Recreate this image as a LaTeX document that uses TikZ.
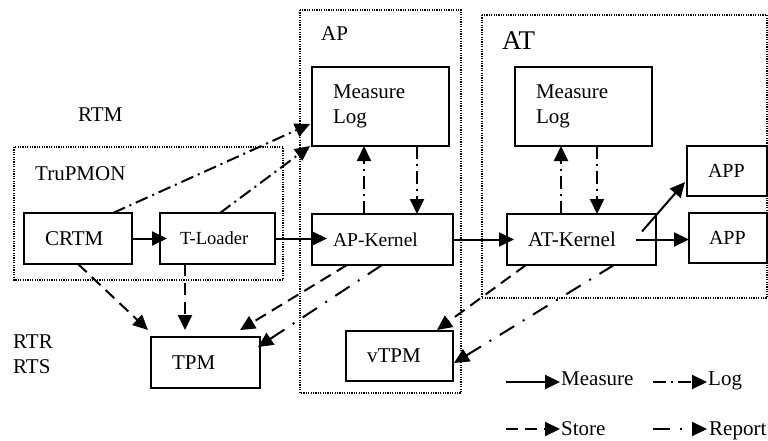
\documentclass[tikz,border=0pt]{standalone}
\usepackage{fontspec}
\setmainfont{Liberation Serif}
\usetikzlibrary{arrows.meta,calc}
\begin{document}
\begin{tikzpicture}[x=1pt,y=-1pt,
  every node/.style={font=\fontsize{21}{25}\selectfont},
  box/.style={draw, line width=1.8pt, anchor=north west, inner xsep=21pt,
    inner ysep=0pt, outer sep=0pt, align=left},
  group/.style={line width=1.2pt, dash pattern=on 1.2pt off 1.2pt},
  tip/.style={-{Triangle[length=15pt,width=14pt]}},
  measure/.style={tip, line width=2pt},
  logarrow/.style={tip, line width=2pt, dash pattern=on 13pt off 5pt on 2pt off 5pt},
  store/.style={tip, line width=2pt, dash pattern=on 12pt off 7pt},
  report/.style={tip, line width=2pt, dash pattern=on 17pt off 10pt on 2pt off 10pt},
  lbl/.style={anchor=base west, inner sep=0pt}
]
\useasboundingbox[fill=white] (0,0) rectangle (768,441);

% dotted groups
\draw[group] (300,10) rectangle (461,393);
\draw[group] (482,15) rectangle (767,298);
\draw[group] (14,147) rectangle (283,280);

% group labels
\node[lbl] (lrtm) at (78,122) {RTM};
\node[lbl] (lap) at (321,41) {AP};
\node[lbl, font=\fontsize{27}{30}\selectfont] (lat) at (502,50) {AT};
\node[lbl] (ltru) at (35,180) {TruPMON};
\node[lbl] (lrtr) at (13,348) {RTR};
\node[lbl] (lrts) at (13,373) {RTS};

% components
\node[box, text width=95pt, minimum height=79pt] (apml) at (312,67) {Measure\\Log};
\node[box, text width=95pt, minimum height=79pt] (atml) at (515,67) {Measure\\Log};
\node[box, text width=38pt, minimum height=50pt, font=\fontsize{20}{24}\selectfont] (app1) at (687,146) {APP};
\node[box, inner xsep=20pt, text width=38pt, minimum height=50pt, font=\fontsize{20}{24}\selectfont] (app2) at (689,213) {APP};
\node[box, text width=66pt, minimum height=51pt] (crtm) at (24,213) {CRTM};
\node[box, inner xsep=20pt, text width=75pt, minimum height=51pt, font=\fontsize{18.5}{22}\selectfont] (tl) at (160,213) {T-Loader};
\node[box, text width=99pt, minimum height=51pt, font=\fontsize{19.6}{23}\selectfont] (apk) at (312,214) {AP-Kernel};
\node[box, text width=107pt, minimum height=51pt] (atk) at (507,214) {AT-Kernel};
\node[box, text width=67pt, minimum height=51pt] (tpm) at (151,337) {TPM};
\node[box, text width=65pt, minimum height=50pt] (vtpm) at (346,331) {vTPM};

% measure
\draw[measure] (crtm.east) -- ($(crtm.east -| tl.west)+(7,0)$);
\draw[measure] (tl.east) -- ($(tl.east -| apk.west)+(15,0)$);
\draw[measure] (apk.east) -- ($(apk.east -| atk.west)+(7,0)$);
\draw[measure] ($(atk.east)+(-20,0)$) -- (atk.east -| app2.west);
\draw[measure] ($(atk.east)+(-14,-8)$) -- ($(app1.south west)+(-2,-14)$);

% log
\draw[logarrow] ($(crtm.north west)+(89,0)$) -- ($(apml.south west)+(-2,-22)$);
\draw[logarrow] ($(tl.north west)+(60,0)$) -- ($(apml.south west)+(-2,0)$);
\draw[logarrow] ($(apk.north west)+(52,0)$) -- ($(apml.south west)+(52,0)$);
\draw[logarrow] ($(apml.south west)+(105,0)$) -- ($(apk.north west)+(105,0)$);
\draw[logarrow] ($(atk.north west)+(54,0)$) -- ($(atml.south west)+(46,0)$);
\draw[logarrow] ($(atml.south west)+(82,0)$) -- ($(atk.north west)+(90,0)$);

% store
\draw[store] ($(crtm.south west)+(54,0)$) -- ($(tpm.north west)+(-3,-7)$);
\draw[store] ($(tl.south west)+(25,0)$) -- ($(tpm.north west)+(34,-7)$);
\draw[store] ($(apk.south west)+(35,0)$) -- ($(tpm.north west)+(89,-7)$);
\draw[store] ($(atk.south west)+(19,0)$) -- ($(vtpm.north west)+(91,-1)$);

% report
\draw[report] ($(apk.south west)+(70,0)$) -- ($(tpm.north east)+(-2,10)$);
\draw[report] ($(atk.south west)+(107,0)$) -- ($(vtpm.north east)+(1,32)$);

% legend
\coordinate (m1) at (506,382); \coordinate (m2) at (560,382);
\coordinate (g1) at (653,382); \coordinate (g2) at (707,382);
\coordinate (s1) at (506,429); \coordinate (s2) at (560,429);
\coordinate (r1) at (653,429); \coordinate (r2) at (707,429);
\draw[measure] (m1) -- (m2);
\draw[logarrow] (g1) -- (g2);
\draw[store] (s1) -- (s2);
\draw[report] (r1) -- (r2);
\node[lbl] (tm) at (561,385) {Measure};
\node[lbl] (tg) at (708,385) {Log};
\node[lbl] (ts) at (561,435) {Store};
\node[lbl] (tr) at (709,435) {Report};
\end{tikzpicture}
\end{document}
